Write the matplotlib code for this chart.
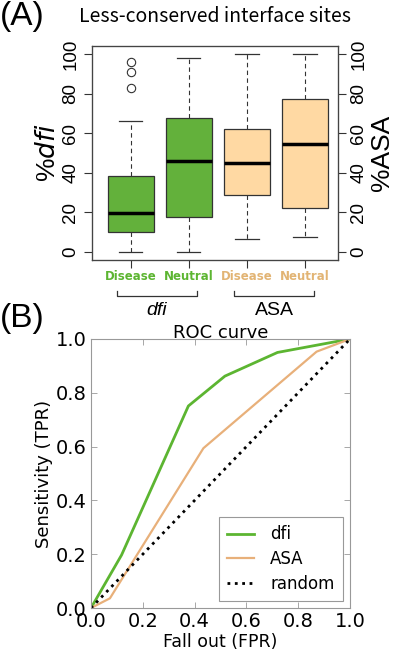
import matplotlib
matplotlib.use('Agg')
import matplotlib.pyplot as plt
import matplotlib.transforms as mtransforms
import numpy as np

# ---- panel A: box plot data ----
groups = ['Disease', 'Neutral', 'Disease', 'Neutral']
whislo = [0.0, 0.0, 6.7, 7.5]
q1 = [10.2, 17.7, 29.0, 22.1]
med = [19.7, 45.9, 45.1, 54.3]
q3 = [38.3, 67.8, 62.2, 77.2]
whishi = [66.3, 98.1, 100.0, 100.0]
fliers = [[82.8, 91.1, 96.0], [], [], []]

# ---- panel B: ROC curves ----
dfi_fpr = [0.0, 0.118, 0.376, 0.517, 0.72, 1.0]
dfi_tpr = [0.0, 0.197, 0.751, 0.862, 0.95, 1.0]
asa_fpr = [0.0, 0.073, 0.434, 0.871, 1.0]
asa_tpr = [0.0, 0.036, 0.594, 0.953, 1.0]
rnd = [0.0, 1.0]

green = '#63b13b'
peach = '#ffd9a3'
green_txt = '#5cb531'
tan_txt = '#e2b474'
roc_green = '#5cb531'
roc_tan = '#e8b07a'

fig = plt.figure(figsize=(4.01, 6.5), dpi=100)

##### (A) #####
ax = fig.add_axes([92/401, 1-260/650, 246/401, 214/650])
stats = []
for i in range(4):
    stats.append(dict(med=med[i], q1=q1[i], q3=q3[i], whislo=whislo[i],
                      whishi=whishi[i], fliers=fliers[i]))
pos = [1, 2, 3, 4]
bp = ax.bxp(stats, positions=pos, widths=0.8, patch_artist=True,
            boxprops=dict(edgecolor='#333333', linewidth=0.9),
            medianprops=dict(color='black', linewidth=2.5),
            whiskerprops=dict(color='#333333', linestyle=(0, (4, 3)), linewidth=0.8),
            capprops=dict(color='#333333', linewidth=0.9),
            flierprops=dict(marker='o', markerfacecolor='none',
                            markeredgecolor='#333333', markersize=6, markeredgewidth=0.8),
            capwidths=0.4)
for b, c in zip(bp['boxes'], [green, green, peach, peach]):
    b.set_facecolor(c)

ax.set_xlim(0.33, 4.57)
ax.set_ylim(-4, 104)
ax.set_yticks([0, 20, 40, 60, 80, 100])
ax.set_xticks(pos)
ax.set_xticklabels([])
ax.tick_params(axis='both', direction='out', length=6, width=0.8, color='#333333')
for s in ax.spines.values():
    s.set_color('#444444')
    s.set_linewidth(0.9)
for lab in ax.get_yticklabels():
    lab.set_rotation(90)
    lab.set_va('center')
ax.tick_params(axis='y', labelsize=13.5, pad=3)
for t in ax.get_yticklabels():
    t.set_family('Liberation Sans')
ax.set_ylabel(r'%$\mathit{dfi}$', fontsize=19, family='Liberation Sans', labelpad=2)

ax2 = ax.twinx()
ax2.set_ylim(-4, 104)
ax2.set_yticks([0, 20, 40, 60, 80, 100])
ax2.tick_params(axis='y', direction='out', length=6, width=0.8, color='#333333',
                labelsize=13.5, pad=3)
for lab in ax2.get_yticklabels():
    lab.set_rotation(90)
    lab.set_va('center')
    lab.set_family('Liberation Sans')
ax2.set_ylabel('%ASA', fontsize=19, family='Liberation Sans', labelpad=2)
for s in ax2.spines.values():
    s.set_color('#444444')

trans = mtransforms.blended_transform_factory(ax.transData, ax.transAxes)
for x, g, c in zip(pos, groups, [green_txt, green_txt, tan_txt, tan_txt]):
    ax.text(x, -0.079, g, transform=trans, ha='center', va='center',
            fontsize=8.5, fontweight='bold', color=c, family='DejaVu Sans')

y_br = (260 - 295.7) / 214
y_end = (260 - 291) / 214
for x0, x1 in [(0.76, 2.14), (2.78, 4.16)]:
    ax.plot([x0, x0, x1, x1], [y_end, y_br, y_br, y_end], transform=trans,
            color='#333333', linewidth=0.9, clip_on=False)
ax.text(1.45, -0.238, 'dfi', transform=trans, ha='center', va='center',
        fontsize=14, style='italic', family='Liberation Sans')
ax.text(3.47, -0.238, 'ASA', transform=trans, ha='center', va='center',
        fontsize=14, family='Liberation Sans')

fig.text(215/401, 1-16/650, 'Less-conserved interface sites', ha='center', va='center',
         fontsize=14, family='Noto Sans CJK JP')
fig.text(0.0, 1-17/650, '(A)', ha='left', va='center', fontsize=24,
         family='Liberation Sans')
fig.text(0.0, 1-318/650, '(B)', ha='left', va='center', fontsize=24,
         family='Liberation Sans')

##### (B) #####
bx = fig.add_axes([91/401, 1-608/650, 259/401, 269/650])
bx.plot(dfi_fpr, dfi_tpr, color=roc_green, linewidth=2, label='dfi')
bx.plot(asa_fpr, asa_tpr, color=roc_tan, linewidth=1.6, label='ASA')
bx.plot(rnd, rnd, color='black', linestyle=':', linewidth=2, label='random')
bx.set_xlim(0, 1)
bx.set_ylim(0, 1)
bx.set_xticks(np.arange(0, 1.01, 0.2))
bx.set_yticks(np.arange(0, 1.01, 0.2))
bx.set_xticklabels(['0.0', '0.2', '0.4', '0.6', '0.8', '1.0'])
bx.set_yticklabels(['0.0', '0.2', '0.4', '0.6', '0.8', '1.0'])
bx.tick_params(direction='in', top=True, right=True, length=4, width=0.6,
               color='#999999', labelsize=14, pad=3)
for s in bx.spines.values():
    s.set_color('#999999')
    s.set_linewidth(0.8)
bx.set_title('ROC curve', fontsize=13, pad=1)
bx.set_xlabel('Fall out (FPR)', fontsize=12.5, labelpad=1)
bx.set_ylabel('Sensitivity (TPR)', fontsize=13, labelpad=2)
leg = bx.legend(loc='lower right', fontsize=12, fancybox=False, framealpha=1,
                handlelength=1.6, handletextpad=1.0, borderpad=0.5, labelspacing=0.4,
                borderaxespad=0, bbox_to_anchor=(0.973, 0.026))
leg.get_frame().set_edgecolor('#999999')
leg.get_frame().set_linewidth(0.8)

fig.savefig('out.png', dpi=100)
